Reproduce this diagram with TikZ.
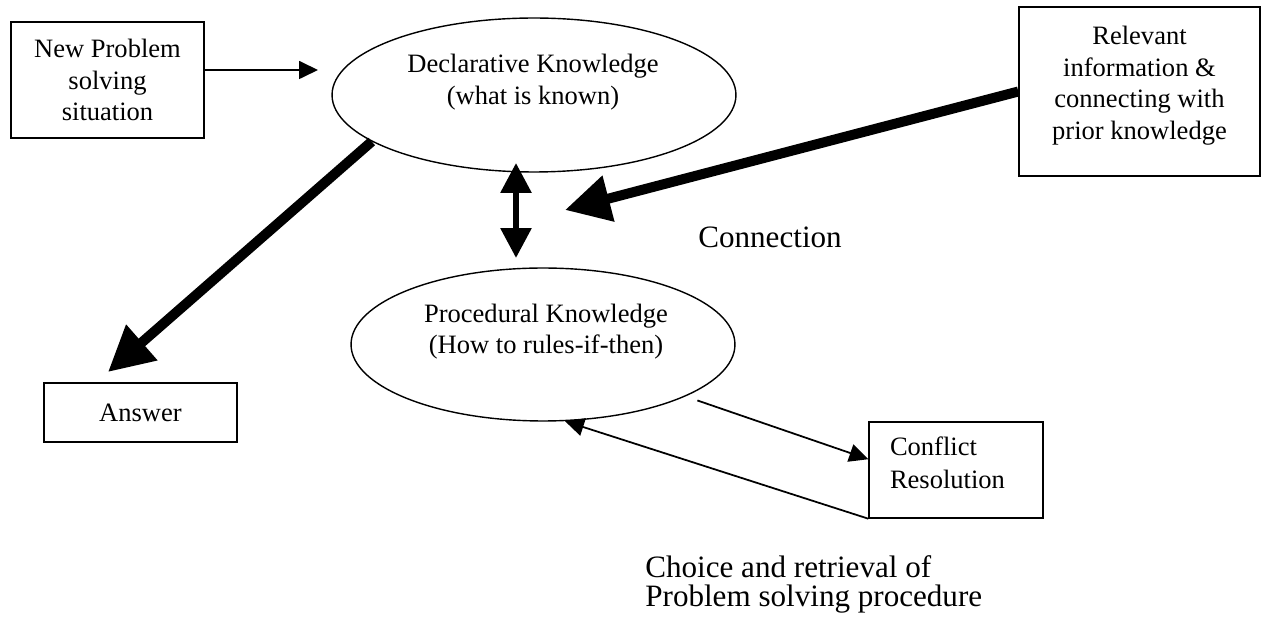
\documentclass[tikz,border=0pt]{standalone}
\usepackage{fontspec}
\setmainfont{Liberation Serif}
\usetikzlibrary{arrows.meta, positioning, shapes.geometric}

\tikzset{
  box/.style={draw, line width=0.8pt, align=center, inner sep=0pt, font=\fontsize{15.1}{18}\selectfont},
  oval/.style={draw, ellipse, line width=0.8pt, inner sep=0pt},
  ovaltext/.style={align=center, font=\fontsize{15.1}{18}\selectfont},
  bigtext/.style={align=left, inner sep=0pt, font=\fontsize{17.7}{17}\selectfont},
  thinarrow/.style={line width=1pt, -{Triangle[length=0.38cm, width=0.36cm]}},
  thickarrow/.style={line width=0.2cm, -{Triangle[length=0.9cm, width=0.9cm]}},
  dblarrow/.style={line width=0.12cm, {Triangle[length=0.6cm, width=0.6cm]}-{Triangle[length=0.6cm, width=0.6cm]}},
}

\begin{document}
\begin{tikzpicture}[x=0.02cm, y=-0.02cm]
    \useasboundingbox (0,0) rectangle (1262,624);

    % knowledge
    \node[oval, minimum width=8.08cm, minimum height=3.08cm] (decl) at (534,95) {};
    \node[ovaltext] (decltext) at (533,82) {Declarative Knowledge\\(what is known)};
    \node[oval, minimum width=7.68cm, minimum height=3.06cm] (proc) at (543,344.5) {};
    \node[ovaltext] (proctext) at (546,331.5) {Procedural Knowledge\\(How to rules-if-then)};

    % boxes
    \node[box, minimum width=3.86cm, minimum height=2.32cm] (newprob) at (107.5,80) {New Problem\\solving\\situation};
    \node[box, minimum width=3.86cm, minimum height=1.18cm] (answer) at (140.5,412.5) {Answer};
    \node[box, text depth=10pt, minimum width=4.82cm, minimum height=3.38cm] (relevant) at (1139.5,91.5) {Relevant\\information \&\\connecting with\\prior knowledge};
    \node[box, align=left, text width=2.64cm, text depth=26.7pt, minimum width=3.48cm, minimum height=1.92cm,
          font=\fontsize{15.1}{18.7}\selectfont] (conflict) at (956,470) {Conflict\\Resolution};

    % texts
    \node[bigtext, anchor=base west] (connlabel) at (698,248) {Connection};
    \node[bigtext, anchor=base west] (choicelabel) at (645,607) {Choice and retrieval of\\Problem solving procedure};

    % free ends
    \coordinate (npTip) at (318,70);
    \coordinate (ansTip) at (108,372);
    \coordinate (relTip) at (565,210);
    \coordinate (dblTop) at (516,163);
    \coordinate (dblBot) at (516,258);

    % connectors
    \draw[thinarrow] (newprob.east |- npTip) -- (npTip);
    \draw[thickarrow] (decl.196) -- (ansTip);
    \draw[thickarrow] (relevant.west) -- (relTip);
    \draw[dblarrow] (dblTop) -- (dblBot);
    \draw[thinarrow, shorten <=0.25cm] (proc.340) -- (conflict.173);
    \draw[thinarrow] (conflict.south west) -- (proc.286);
\end{tikzpicture}
\end{document}
